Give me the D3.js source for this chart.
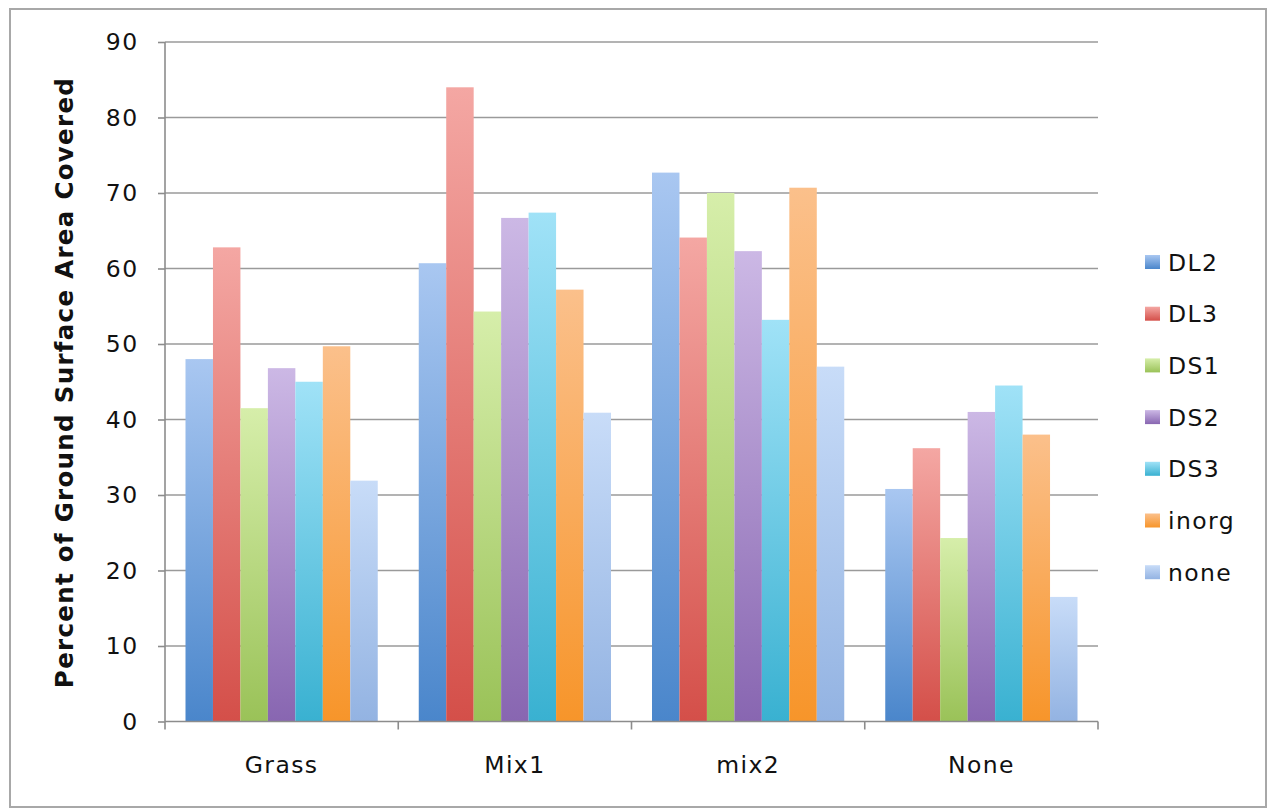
<!DOCTYPE html>
<html><head><meta charset="utf-8">
<script src="https://cdn.jsdelivr.net/npm/d3@7"></script>
<style>body{margin:0;background:#fff}svg{display:block}</style>
</head><body>
<svg id="c" width="1268" height="811"></svg>
<script>
const categories = ["Grass", "Mix1", "mix2", "None"];
const seriesNames = ["DL2", "DL3", "DS1", "DS2", "DS3", "inorg", "none"];
const DL2   = [48.0, 60.7, 72.7, 30.8];
const DL3   = [62.8, 84.0, 64.1, 36.2];
const DS1   = [41.5, 54.3, 70.0, 24.3];
const DS2   = [46.8, 66.7, 62.3, 41.0];
const DS3   = [45.0, 67.4, 53.2, 44.5];
const inorg = [49.7, 57.2, 70.7, 38.0];
const none  = [31.9, 40.9, 47.0, 16.5];
const yTicks = [0, 10, 20, 30, 40, 50, 60, 70, 80, 90];
const yTitle = "Percent of Ground Surface Area Covered";

const seriesValues = [DL2, DL3, DS1, DS2, DS3, inorg, none];
const colorsBottom = ["#4a86cb", "#d44f49", "#9ac258", "#8866b1", "#39b1d1", "#f7952a", "#93b3e2"];
const colorsTop    = ["#a9c7f1", "#f4a7a3", "#d6eeaa", "#ccb8e5", "#a0e2f7", "#fbc08b", "#c8dcf8"];

const svg = d3.select("#c");
const font = "'DejaVu Sans', sans-serif";
const fs = 23.5, ls = 1.4;

// frame
svg.append("rect").attr("x", 10).attr("y", 9).attr("width", 1256).attr("height", 798)
  .attr("fill", "#fff").attr("stroke", "#a8a8a8").attr("stroke-width", 2);

const L = 165, R = 1098, T = 42, B = 721.5;
const y = d3.scaleLinear().domain([0, 90]).range([B, T]);
const x0 = d3.scaleBand().domain(categories).range([L, R]).padding(0);
const x1 = d3.scaleBand().domain(seriesNames).range([20.5, x0.bandwidth() - 20.5]).padding(0);

const defs = svg.append("defs");
seriesNames.forEach((s, i) => {
  const g = defs.append("linearGradient").attr("id", "g" + i)
    .attr("x1", 0).attr("y1", 1).attr("x2", 0).attr("y2", 0);
  g.append("stop").attr("offset", "0%").attr("stop-color", colorsBottom[i]);
  g.append("stop").attr("offset", "100%").attr("stop-color", colorsTop[i]);
});

// gridlines
svg.append("g").selectAll("line").data(yTicks.filter(d => d > 0)).join("line")
  .attr("x1", L).attr("x2", R).attr("y1", d => y(d)).attr("y2", d => y(d))
  .attr("stroke", "#9a9a9a").attr("stroke-width", 1.6);

// bars
const rows = [];
categories.forEach((c, ci) => seriesNames.forEach((s, si) => rows.push({c, s, si, v: seriesValues[si][ci]})));
svg.append("g").selectAll("rect").data(rows).join("rect")
  .attr("x", d => x0(d.c) + x1(d.s))
  .attr("width", x1.bandwidth())
  .attr("y", d => y(d.v))
  .attr("height", d => B - y(d.v))
  .attr("fill", d => `url(#g${d.si})`);

// y axis
const yAxis = svg.append("g").attr("transform", `translate(${L},0)`)
  .call(d3.axisLeft(y).tickValues(yTicks).tickSize(7).tickPadding(19.5));
yAxis.select(".domain").attr("stroke", "#8c8c8c").attr("stroke-width", 1.6).attr("d", `M0,${T}V${B}`);
yAxis.selectAll(".tick line").attr("stroke", "#8c8c8c").attr("stroke-width", 1.6);
yAxis.selectAll(".tick text").attr("font-family", font).attr("font-size", fs)
  .attr("letter-spacing", ls).attr("fill", "#111");

// x axis
const xAxis = svg.append("g").attr("transform", `translate(0,${B})`)
  .call(d3.axisBottom(x0).tickSize(0).tickPadding(35));
xAxis.select(".domain").attr("stroke", "#8c8c8c").attr("stroke-width", 1.6).attr("d", `M${L},0H${R}`);
xAxis.selectAll(".tick text").attr("font-family", font).attr("font-size", fs)
  .attr("letter-spacing", ls).attr("fill", "#111");
svg.append("g").selectAll("line").data(d3.range(categories.length + 1)).join("line")
  .attr("x1", i => L + i * x0.step()).attr("x2", i => L + i * x0.step())
  .attr("y1", B).attr("y2", B + 8).attr("stroke", "#8c8c8c").attr("stroke-width", 1.6);

// y title
svg.append("text").attr("transform", `translate(73,382.5) rotate(-90)`)
  .attr("text-anchor", "middle").attr("font-family", font).attr("font-weight", "bold")
  .attr("font-size", 24.5).attr("letter-spacing", 1.3).attr("fill", "#111").text(yTitle);

// legend
const lg = svg.append("g").selectAll("g").data(seriesNames).join("g")
  .attr("transform", (d, i) => `translate(1145,${262 + i * 51.7})`);
lg.append("rect").attr("x", 0).attr("y", -7).attr("width", 15).attr("height", 14)
  .attr("fill", (d, i) => `url(#g${i})`);
lg.append("text").attr("x", 23).attr("y", 8.5).attr("font-family", font).attr("font-size", fs)
  .attr("letter-spacing", ls).attr("fill", "#111").text(d => d);
</script>
</body></html>
